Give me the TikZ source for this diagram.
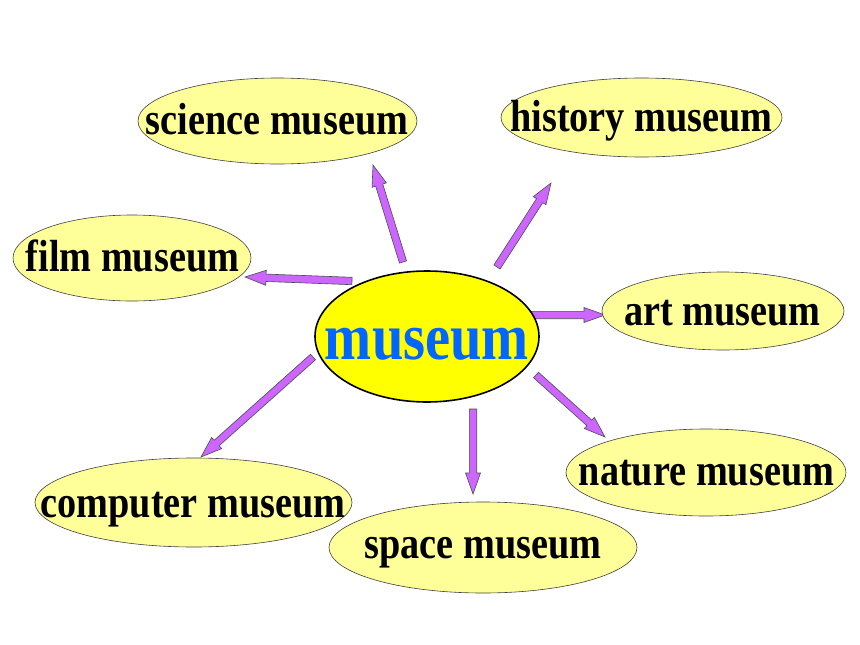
\documentclass[tikz,border=0pt]{standalone}
\usepackage{fontspec}
\setmainfont{Liberation Serif}[FakeStretch=0.85]
\usetikzlibrary{shapes.geometric,calc}
\definecolor{bubfill}{HTML}{FFFF99}
\definecolor{hubfill}{HTML}{FFFF00}
\definecolor{hubtext}{HTML}{0066FF}
\definecolor{arrfill}{HTML}{CC66FF}
\tikzset{
  bub/.style={ellipse, draw=black!75, line width=0.6pt, fill=bubfill, inner sep=0pt},
  hub/.style={ellipse, draw=black, line width=1.6pt, fill=hubfill, inner sep=0pt},
  lbl/.style={font=\fontsize{45}{50}\selectfont\bfseries, inner sep=0pt, anchor=base},
  hublbl/.style={font=\fontsize{66.5}{70}\selectfont\bfseries, text=hubtext, inner sep=0pt, anchor=base},
  arrbody/.style={fill=arrfill, draw=black!70, line width=0.6pt, line join=miter}
}
\newcommand\blockarrow[2]{%
  \path[arrbody] let \p1=(#1), \p2=(#2),
    \n1={atan2(\y2-\y1,\x2-\x1)}, \n2={veclen(\x2-\x1,\y2-\y1)} in
    [shift={(\p1)}, rotate=\n1]
    (0pt,-3.7pt) -- ({\n2-21pt},-3.7pt) -- ({\n2-21pt},-7.5pt) -- ({\n2+0pt},0pt)
    -- ({\n2-21pt},7.5pt) -- ({\n2-21pt},3.7pt) -- (0pt,3.7pt) -- cycle;}
\begin{document}
\begin{tikzpicture}[x=1pt,y=-1pt]
\useasboundingbox[fill=white] (0,0) rectangle (860,645);
% arrow end points
\coordinate (sciA) at (403,262); \coordinate (sciB) at (373,165);
\coordinate (hisA) at (497,267); \coordinate (hisB) at (551,183);
\coordinate (filA) at (352,281); \coordinate (filB) at (245,277);
\coordinate (artA) at (531,315); \coordinate (artB) at (605,315);
\coordinate (comA) at (313,357); \coordinate (comB) at (201,457);
\coordinate (spaA) at (473,409); \coordinate (spaB) at (473,494);
\coordinate (natA) at (536,375); \coordinate (natB) at (605,437);
% arrows
\blockarrow{sciA}{sciB}
\blockarrow{hisA}{hisB}
\blockarrow{filA}{filB}
\blockarrow{artA}{artB}
\blockarrow{comA}{comB}
\blockarrow{spaA}{spaB}
\blockarrow{natA}{natB}
% bubbles
\node[bub, minimum width=279, minimum height=86] (sci) at (277.5,121) {};
\node[bub, minimum width=281, minimum height=79] (his) at (641.5,117.5) {};
\node[bub, minimum width=238, minimum height=86] (fil) at (132,258) {};
\node[bub, minimum width=242, minimum height=78] (art) at (723,311) {};
\node[bub, minimum width=317, minimum height=89] (com) at (193.5,502.5) {};
\node[bub, minimum width=308, minimum height=91] (spa) at (483,547.5) {};
\node[bub, minimum width=280, minimum height=87] (nat) at (706,472.5) {};
\node[hub, minimum width=224, minimum height=131] (hub) at (427,336.5) {};
% labels
\node[lbl] (sciT) at (277,134) {science museum};
\node[lbl] (hisT) at (641.5,131) {history museum};
\node[lbl] (filT) at (132.5,271) {film museum};
\node[lbl] (artT) at (722.5,325) {art museum};
\node[lbl] (comT) at (193,517) {computer museum};
\node[lbl] (spaT) at (483,558) {space museum};
\node[lbl] (natT) at (706.5,485) {nature museum};
\node[hublbl] (hubT) at (427,359) {museum};
\end{tikzpicture}
\end{document}
